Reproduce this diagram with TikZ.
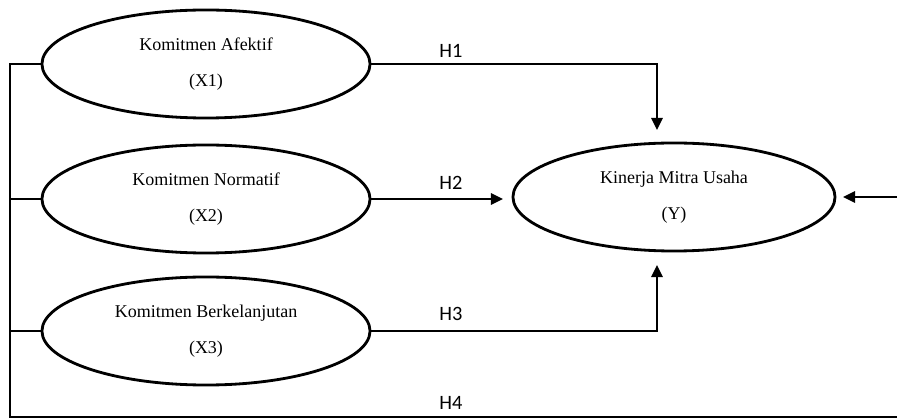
\documentclass[tikz,border=0pt]{standalone}
\usepackage{fontspec}
\setmainfont{Liberation Serif}
\newfontfamily\hfont{Carlito}
\usetikzlibrary{arrows.meta,shapes.geometric}

\tikzset{
  var/.style={draw,ellipse,line width=2pt,minimum width=8.2cm,minimum height=2.7cm,
    inner sep=0pt,align=center,font=\fontsize{12.8}{26}\selectfont},
  link/.style={line width=1.8pt},
  tip/.style={-{Triangle[length=0.3cm,width=0.28cm]}},
  hlab/.style={font=\hfont\fontsize{14.5}{16}\selectfont}
}

\begin{document}
\begin{tikzpicture}[x=0.025cm,y=-0.025cm]
	\useasboundingbox (0,0) rectangle (897,419);
	
	\node[var] (x1) at (206,64) {Komitmen Afektif\\(X1)};
	\node[var] (x2) at (206,199) {Komitmen Normatif\\(X2)};
	\node[var] (x3) at (206,331) {Komitmen Berkelanjutan\\(X3)};
	\node[var,minimum width=8.05cm] (y) at (674,197) {Kinerja Mitra Usaha\\(Y)};
	
	\coordinate (t1) at (657,130);
	\coordinate (t2) at (503,199);
	\coordinate (t3) at (657,265);
	\coordinate (t4) at (843,197);
	\coordinate (bl) at (10,417);
	\coordinate (br) at (905,417);
	
	\draw[link,tip] (x1.east) -| (t1);
	\draw[link,tip] (x2.east) -- (t2);
	\draw[link,tip] (x3.east) -| (t3);
	\draw[link,tip] (x1.west) -| (bl) -- (br) |- (t4);
	\draw[link] (x2.west) -- (x2.west -| bl);
	\draw[link] (x3.west) -- (x3.west -| bl);
	
	\node[hlab] (h1) at (451,51) {H1};
	\node[hlab] (h2) at (451,183) {H2};
	\node[hlab] (h3) at (451,314) {H3};
	\node[hlab] (h4) at (451,403) {H4};
	
\end{tikzpicture}
\end{document}
